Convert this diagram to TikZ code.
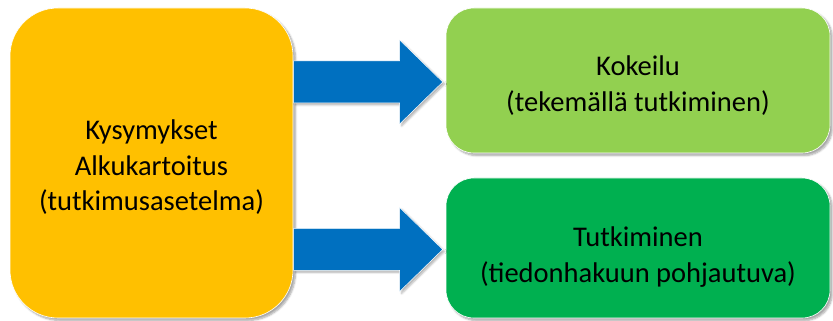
\documentclass[tikz,border=0pt]{standalone}
\usepackage{fontspec}
\setmainfont{Carlito}
\usetikzlibrary{calc,shadows.blur}
\definecolor{boxorange}{HTML}{FFC000}
\definecolor{boxlight}{HTML}{92D050}
\definecolor{boxgreen}{HTML}{00B050}
\definecolor{arrowblue}{HTML}{0070C0}
\newcommand{\topstrut}[1]{\rule{0pt}{#1}}
\begin{document}
\begin{tikzpicture}[x=1pt,y=1pt,
  box/.style={rectangle, draw=white, line width=0.6pt, align=center, font=\fontsize{28.5}{35.5}\selectfont,
    blur shadow={shadow xshift=2.5pt, shadow yshift=-2.5pt, shadow blur steps=6, shadow opacity=35}},
  blockarrow/.style={fill=arrowblue, draw=white, line width=0.5pt,
    blur shadow={shadow xshift=2pt, shadow yshift=-2pt, shadow blur steps=5, shadow opacity=30}}]
\useasboundingbox (0,0) rectangle (833,321);
\node[box, fill=boxlight, rounded corners=28pt, minimum width=384pt, minimum height=145pt] (A) at (638,240.5)
  {\topstrut{30pt}Kokeilu\\(tekemällä tutkiminen)};
\node[box, fill=boxgreen, rounded corners=28pt, minimum width=384pt, minimum height=140pt] (B) at (638,73)
  {\topstrut{38pt}Tutkiminen\\(tiedonhakuun pohjautuva)};
\node[box, fill=boxorange, rounded corners=48pt, minimum width=283pt, minimum height=310pt] (L) at (151.5,158)
  {\topstrut{28pt}Kysymykset\\Alkukartoitus\\(tutkimusasetelma)};
\foreach \t in {A,B}{
  \coordinate (s) at ($(L.east |- \t.west)+(0.4,-1.5)$);
  \coordinate (e) at ($(\t.west)+(-3,-1.5)$);
  \path[blockarrow] ($(s)+(0,21)$) -- ($(e)+(-43,21)$) -- ($(e)+(-43,42)$) -- (e)
    -- ($(e)+(-43,-42)$) -- ($(e)+(-43,-21)$) -- ($(s)+(0,-21)$) -- cycle;
}
\end{tikzpicture}
\end{document}
